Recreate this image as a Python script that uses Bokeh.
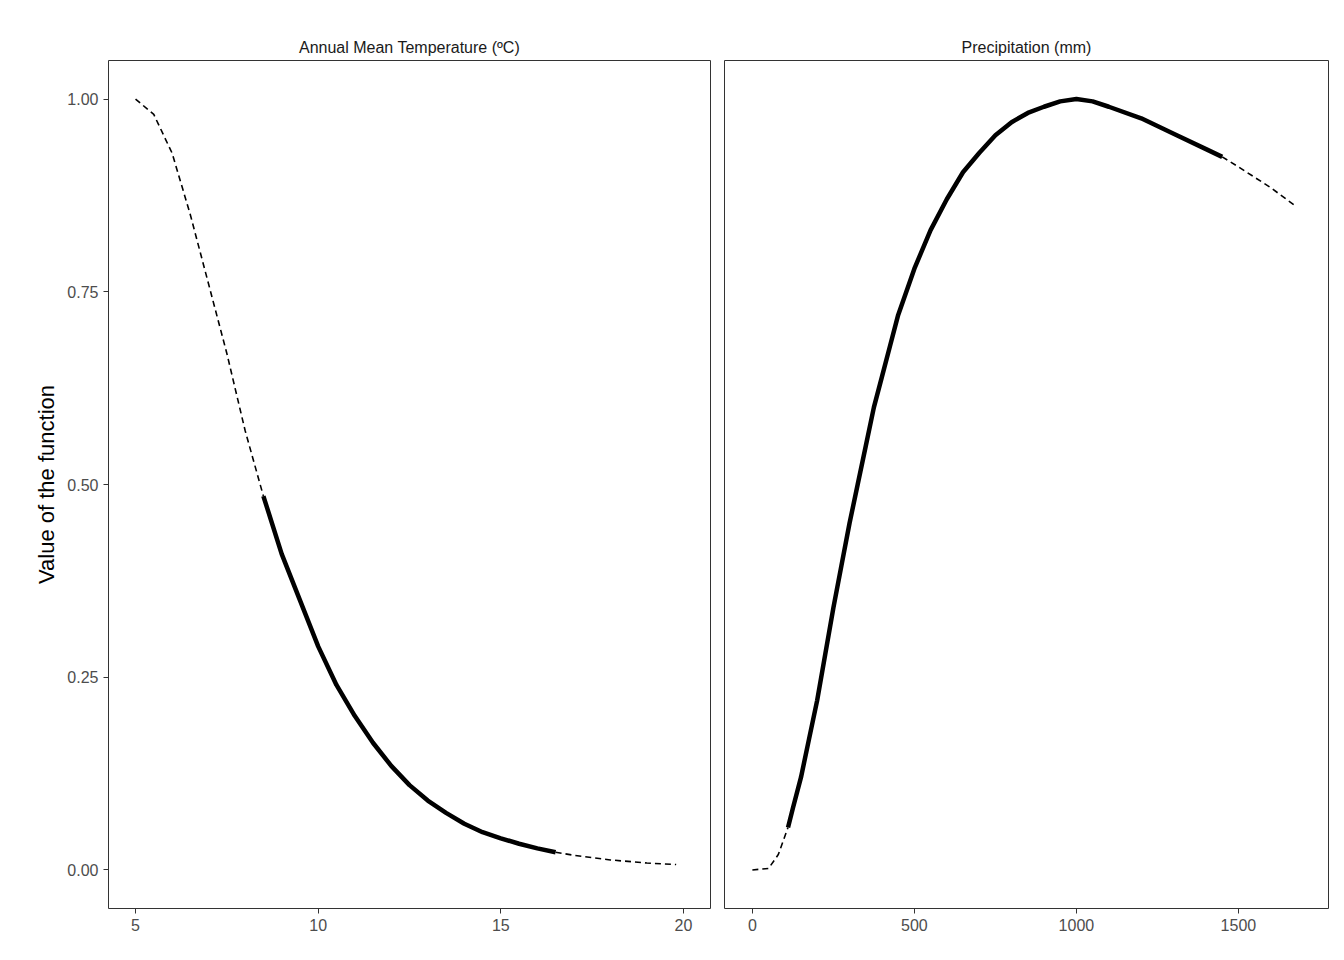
from bokeh.plotting import figure
from bokeh.layouts import row
from bokeh.models import Range1d, FixedTicker
from bokeh.embed import file_html
from bokeh.resources import INLINE

temp_x = [5, 5.5, 6, 6.5, 7, 7.5, 8, 8.5, 9, 9.5, 10, 10.5, 11, 11.5, 12, 12.5, 13, 13.5, 14, 14.5, 15, 15.5, 16, 16.5, 17, 18, 19, 19.8]
temp_y = [1.0, 0.98, 0.93, 0.85, 0.76, 0.67, 0.57, 0.485, 0.41, 0.35, 0.29, 0.24, 0.2, 0.165, 0.135, 0.11, 0.09, 0.074, 0.06, 0.049, 0.041, 0.034, 0.028, 0.023, 0.019, 0.013, 0.009, 0.007]
temp_lo, temp_hi = 8.5, 16.5

prec_x = [0, 50, 80, 110, 125, 150, 175, 200, 225, 250, 275, 300, 325, 350, 375, 400, 425, 450, 500, 550, 600, 650, 700, 750, 800, 850, 900, 950, 1000, 1050, 1100, 1200, 1300, 1400, 1450, 1500, 1600, 1680]
prec_y = [0, 0.002, 0.02, 0.055, 0.08, 0.12, 0.17, 0.22, 0.28, 0.34, 0.395, 0.45, 0.5, 0.55, 0.6, 0.64, 0.68, 0.72, 0.78, 0.83, 0.87, 0.905, 0.93, 0.953, 0.97, 0.982, 0.99, 0.997, 1.0, 0.997, 0.99, 0.975, 0.955, 0.935, 0.925, 0.912, 0.885, 0.86]
prec_lo, prec_hi = 110, 1450

y_ticks = [0, 0.25, 0.5, 0.75, 1.0]
y_labels = {0: "0.00", 0.25: "0.25", 0.5: "0.50", 0.75: "0.75", 1: "1.00"}


def split(xs, ys, lo, hi):
    a = [(x, y) for x, y in zip(xs, ys) if x <= lo]
    b = [(x, y) for x, y in zip(xs, ys) if lo <= x <= hi]
    c = [(x, y) for x, y in zip(xs, ys) if x >= hi]
    return a, b, c


def panel(title, xs, ys, lo, hi, xr, xticks, width, left, right, ylab):
    p = figure(width=width, height=950, output_backend="svg", toolbar_location=None,
               x_range=Range1d(*xr), y_range=Range1d(-0.05, 1.05),
               min_border_left=left, min_border_right=right, min_border_top=60, min_border_bottom=42)
    p.title.text = title
    p.title.align = "center"
    p.title.text_font = "Liberation Sans"
    p.title.text_font_size = "16px"
    p.title.text_font_style = "normal"
    p.title.text_color = "#1a1a1a"
    p.xgrid.visible = False
    p.ygrid.visible = False
    p.outline_line_color = "#333333"
    p.outline_line_width = 1
    p.background_fill_color = "white"
    p.xaxis.ticker = FixedTicker(ticks=xticks)
    p.yaxis.ticker = FixedTicker(ticks=y_ticks)
    p.yaxis.major_label_overrides = y_labels
    for ax in (p.xaxis, p.yaxis):
        ax.axis_line_color = None
        ax.major_tick_line_color = "#333333"
        ax.major_tick_in = 0
        ax.major_tick_out = 5
        ax.minor_tick_line_color = None
        ax.major_label_text_font = "Liberation Sans"
        ax.major_label_text_font_size = "16px"
        ax.major_label_text_color = "#4d4d4d"
    if ylab:
        p.yaxis.axis_label = "Value of the function"
        p.yaxis.axis_label_text_font = "Liberation Sans"
        p.yaxis.axis_label_text_font_size = "22px"
        p.yaxis.axis_label_text_font_style = "normal"
        p.yaxis.axis_label_text_color = "black"
    else:
        p.yaxis.visible = False
    a, b, c = split(xs, ys, lo, hi)
    for seg, w, dash in ((a, 1.6, "6 4"), (b, 4.5, "solid"), (c, 1.6, "6 4")):
        p.line([s[0] for s in seg], [s[1] for s in seg], line_color="black", line_width=w, line_dash=dash)
    return p


p1 = panel("Annual Mean Temperature (ºC)", temp_x, temp_y, temp_lo, temp_hi, (4.26, 20.74), [5, 10, 15, 20], 716, 108, 6, True)
p2 = panel("Precipitation (mm)", prec_x, prec_y, prec_lo, prec_hi, (-86, 1778), [0, 500, 1000, 1500], 622, 8, 10, False)
p = row(p1, p2)
open("out.html", "w").write(file_html(p, INLINE))
